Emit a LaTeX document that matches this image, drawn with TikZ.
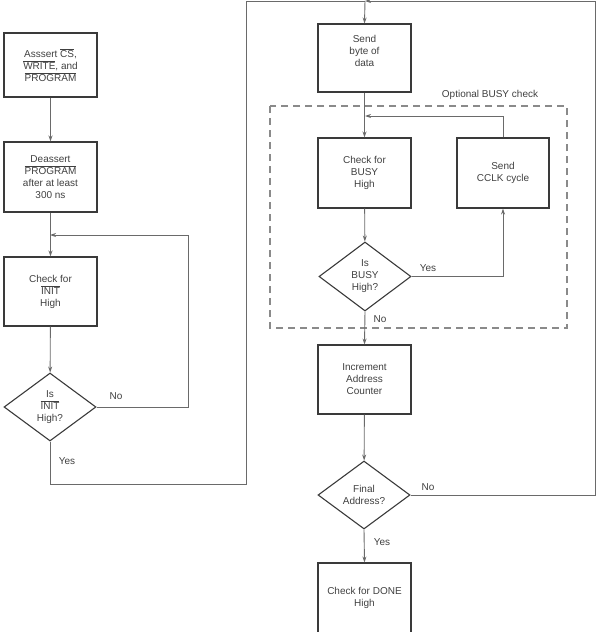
\documentclass[tikz,border=0pt]{standalone}
\usepackage{fontspec}
\setmainfont{Liberation Sans}
\usetikzlibrary{shapes.geometric,arrows.meta}
\definecolor{boxc}{HTML}{3A3A3A}
\definecolor{linec}{HTML}{6A6A6A}
\definecolor{txtc}{HTML}{404040}
\definecolor{dashc}{HTML}{8A8A8A}
\newcommand{\ovl}[1]{$\overline{\mbox{#1}}$}
\tikzset{
  every node/.style={font=\fontsize{10}{12}\selectfont, text=txtc},
  stepbox/.style={draw=boxc, line width=1.1pt, minimum width=93pt, minimum height=69pt, align=center, inner sep=2pt},
  decide/.style={draw=boxc, line width=1.1pt, diamond, aspect=1.35, minimum width=92pt, minimum height=68pt, align=center, inner sep=0pt},
  conn/.style={draw=linec, line width=0.9pt},
  arr/.style={conn, -{Stealth[length=6pt,width=4pt]}},
  lbl/.style={inner sep=0pt}
}
\begin{document}
\begin{tikzpicture}[x=1pt,y=-1pt]
\useasboundingbox (0,0) rectangle (602,632);
\clip (0,0) rectangle (602,632);
% left column
\node[stepbox, minimum height=64pt] (b1) at (50.5,65) {Asssert \ovl{CS},\\\ovl{WRITE}, and\\\ovl{PROGRAM}};
\node[stepbox, minimum height=70pt] (b2) at (50.5,177) {Deassert\\\ovl{PROGRAM}\\after at least\\300 ns};
\node[stepbox] (b3) at (50.5,291.5) {Check for\\\ovl{INIT}\\High};
\node[decide] (d1) at (50,407) {Is\\\ovl{INIT}\\High?};
% right column
\node[stepbox, minimum height=68pt] (send) at (364.5,58) {};
\node[lbl, align=center] (sendtxt) at (364.5,51) {Send\\byte of\\data};
\node[stepbox, minimum height=70pt] (cb) at (364.5,173) {Check for\\BUSY\\High};
\node[stepbox, minimum width=92pt, minimum height=70pt] (cclk) at (503,173) {Send\\CCLK cycle};
\node[decide, minimum height=69pt] (d2) at (365,276.5) {Is\\BUSY\\High?};
\node[stepbox] (inc) at (364.5,379.5) {Increment\\Address\\Counter};
\node[decide] (d3) at (364,495) {Final\\Address?};
\node[stepbox, minimum height=90pt] (done) at (364.5,608) {};
\node[lbl, align=center] (donetxt) at (364.5,598) {Check for DONE\\High};
% dashed region
\draw[dashc, line width=1.2pt, dash pattern=on 7pt off 5pt] (270,106) rectangle (567,328);
\node[lbl] (opt) at (490,95) {Optional BUSY check};
% coordinates
\coordinate (j1) at (50,235);
\coordinate (j2) at (365,1);
\coordinate (j3) at (365,116);
% connectors left
\draw[arr] (b1) -- (b2);
\draw[arr] (b2) -- (b3);
\draw[arr] (b3) -- (d1);
\draw[arr] (d1.east) -| (188,235) -- (j1);
\draw[conn] (d1.south) -- (50,484) -| (246,1) -- (j2);
\node[lbl] (no1) at (116,396) {No};
\node[lbl] (yes1) at (67,461) {Yes};
% connectors right
\draw[arr] (d3.east) -| (595,1) -- (j2);
\draw[arr] (j2) -- (send.north);
\draw[arr] (send.south) -- (cb.north);
\draw[arr] (cclk.north) |- (j3);
\draw[arr] (cb) -- (d2);
\draw[arr] (d2.east) -| (cclk.south);
\draw[arr] (d2.south) -- (inc.north);
\draw[arr] (inc) -- (d3);
\draw[arr] (d3.south) -- (done.north);
\node[lbl] (yes2) at (428,268) {Yes};
\node[lbl] (no2) at (380,319) {No};
\node[lbl] (no3) at (428,487) {No};
\node[lbl] (yes3) at (382,542) {Yes};
\end{tikzpicture}
\end{document}
